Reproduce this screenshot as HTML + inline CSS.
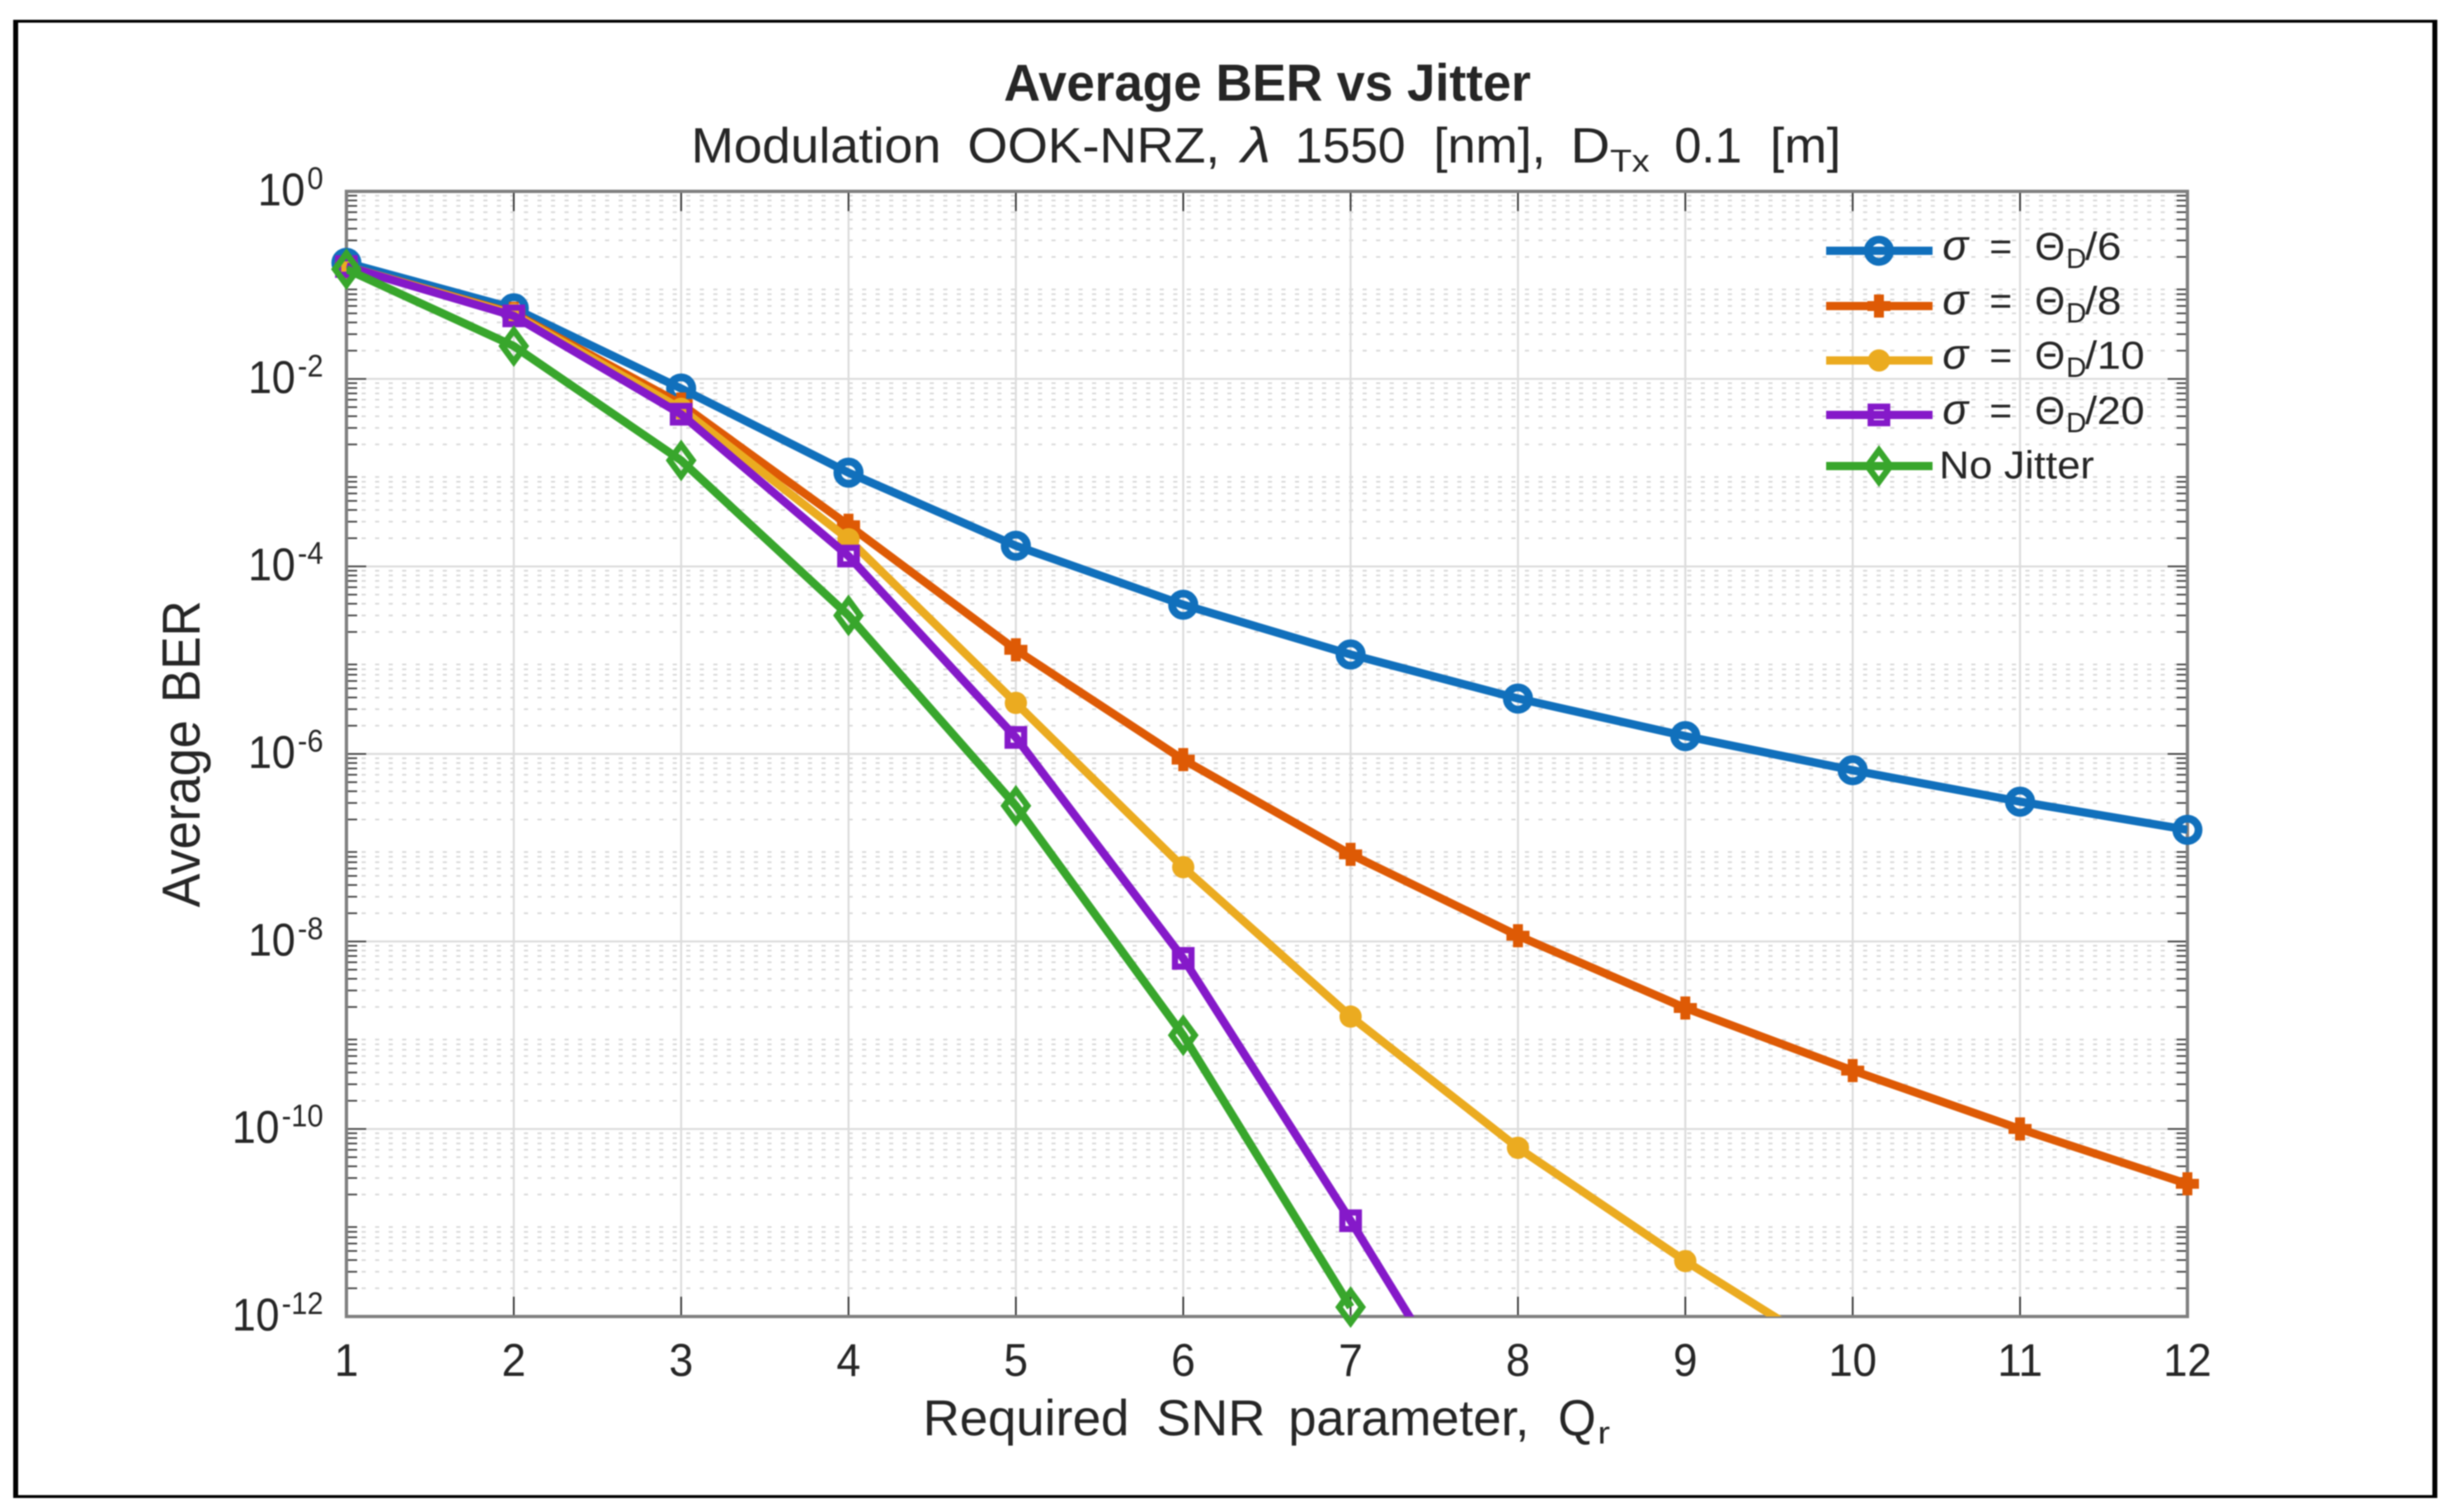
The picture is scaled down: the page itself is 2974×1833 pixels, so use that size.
<!DOCTYPE html>
<html lang="en">
<head>
<meta charset="utf-8">
<title>Average BER vs Jitter</title>
<style>
  html,body{margin:0;padding:0;background:#fff;width:2974px;height:1833px;overflow:hidden;}
  svg{display:block;filter:blur(0.7px);}
  text{font-family:"Liberation Sans",sans-serif;fill:#262626;}
</style>
</head>
<body>
<svg id="chart" xmlns="http://www.w3.org/2000/svg" width="2974" height="1833" viewBox="0 0 2974 1833">
  <defs>
    <clipPath id="plot-clip"><rect x="420" y="232" width="2232" height="1364"/></clipPath>
  </defs>
  <rect x="0" y="0" width="2974" height="1833" fill="#fff"/>
  <g fill="#000">
    <rect x="16" y="24" width="2939" height="3.5"/>
    <rect x="16" y="1812.5" width="2939" height="3.5"/>
    <rect x="16" y="24" width="6" height="1792"/>
    <rect x="2949" y="24" width="6" height="1792"/>
  </g>
  <g id="grid"></g>
  <g id="axes"></g>
  <g id="series"></g>

  <g>
    <text x="1217" y="122" font-size="63" font-weight="700" textLength="639" lengthAdjust="spacingAndGlyphs">Average BER vs Jitter</text>
  </g>
  <g font-size="60">
    <text x="838" y="197" textLength="303" lengthAdjust="spacingAndGlyphs">Modulation</text>
    <text x="1173" y="197" textLength="306" lengthAdjust="spacingAndGlyphs">OOK-NRZ,</text>
    <text x="1505" y="197" font-style="italic" textLength="36" lengthAdjust="spacingAndGlyphs">λ</text>
    <text x="1570" y="197" textLength="134" lengthAdjust="spacingAndGlyphs">1550</text>
    <text x="1738" y="197" textLength="136" lengthAdjust="spacingAndGlyphs">[nm],</text>
    <text x="1904" y="197" textLength="48" lengthAdjust="spacingAndGlyphs">D</text>
    <text x="1952" y="208" font-size="38" textLength="48" lengthAdjust="spacingAndGlyphs">Tx</text>
    <text x="2030" y="197" textLength="82" lengthAdjust="spacingAndGlyphs">0.1</text>
    <text x="2146" y="197" textLength="86" lengthAdjust="spacingAndGlyphs">[m]</text>
  </g>
  <g font-size="61">
    <text x="1119" y="1740" textLength="250" lengthAdjust="spacingAndGlyphs">Required</text>
    <text x="1402" y="1740" textLength="132" lengthAdjust="spacingAndGlyphs">SNR</text>
    <text x="1562" y="1740" textLength="292" lengthAdjust="spacingAndGlyphs">parameter,</text>
    <text x="1889" y="1740" textLength="46" lengthAdjust="spacingAndGlyphs">Q</text>
    <text x="1937" y="1750" font-size="38" textLength="15" lengthAdjust="spacingAndGlyphs">r</text>
  </g>
  <g font-size="65">
    <text transform="translate(242,1100) rotate(-90)" textLength="227" lengthAdjust="spacingAndGlyphs">Average</text>
    <text transform="translate(242,852) rotate(-90)" textLength="124" lengthAdjust="spacingAndGlyphs">BER</text>
  </g>

  <g id="legend-marks"></g>
  <g id="legend-labels" font-size="47">
    <g>
      <text x="2355" y="315" font-size="52" font-style="italic">σ</text>
      <text x="2412" y="315">=</text>
      <text x="2467" y="315">Θ</text>
      <text x="2505" y="325" font-size="34">D</text>
      <text x="2528" y="315" textLength="44" lengthAdjust="spacingAndGlyphs">/6</text>
    </g>
    <g>
      <text x="2355" y="381" font-size="52" font-style="italic">σ</text>
      <text x="2412" y="381">=</text>
      <text x="2467" y="381">Θ</text>
      <text x="2505" y="391" font-size="34">D</text>
      <text x="2528" y="381" textLength="44" lengthAdjust="spacingAndGlyphs">/8</text>
    </g>
    <g>
      <text x="2355" y="447" font-size="52" font-style="italic">σ</text>
      <text x="2412" y="447">=</text>
      <text x="2467" y="447">Θ</text>
      <text x="2505" y="457" font-size="34">D</text>
      <text x="2528" y="447" textLength="72" lengthAdjust="spacingAndGlyphs">/10</text>
    </g>
    <g>
      <text x="2355" y="514" font-size="52" font-style="italic">σ</text>
      <text x="2412" y="514">=</text>
      <text x="2467" y="514">Θ</text>
      <text x="2505" y="524" font-size="34">D</text>
      <text x="2528" y="514" textLength="72" lengthAdjust="spacingAndGlyphs">/20</text>
    </g>
    <g>
      <text x="2351" y="580" textLength="188" lengthAdjust="spacingAndGlyphs">No Jitter</text>
    </g>
  </g>
</svg>
<script>
// ---- chart data (BER) ----
const qValues = [1, 2, 3, 4, 5, 6, 7, 8, 9, 10, 11, 12];
const berSigma6 = [0.173, 0.0566, 7.9e-3, 1e-3, 1.66e-4, 3.9e-5, 1.15e-5, 3.9e-6, 1.55e-6, 6.7e-7, 3.1e-7, 1.55e-7];
const berSigma8 = [0.158, 0.05, 5.4e-3, 2.75e-4, 1.29e-5, 8.7e-7, 8.5e-8, 1.15e-8, 1.95e-9, 4.2e-10, 1e-10, 2.6e-11];
const berSigma10 = [0.158, 0.049, 4.8e-3, 1.95e-4, 3.5e-6, 6.2e-8, 1.58e-9, 6.3e-11, 3.9e-12, 3e-13];
const berSigma20 = [0.158, 0.047, 4.2e-3, 1.29e-4, 1.5e-6, 6.6e-9, 1.05e-11, 1.3e-14];
const berNoJitter = [0.148, 0.0224, 1.35e-3, 3e-5, 2.8e-7, 1e-9, 1.26e-12];
const xTickLabels = ['1', '2', '3', '4', '5', '6', '7', '8', '9', '10', '11', '12'];
const yTickExponents = ['0', '-2', '-4', '-6', '-8', '-10', '-12'];

// ---- axis functions ----
const plot = {left: 420, right: 2652, top: 232, bottom: 1596};
const xMin = 1, xMax = 12, logMax = 0, logMin = -12;
function xScale(q) { return plot.left + (q - xMin) / (xMax - xMin) * (plot.right - plot.left); }
function yScale(ber) { return plot.top + (logMax - Math.log10(ber)) / (logMax - logMin) * (plot.bottom - plot.top); }

const NS = 'http://www.w3.org/2000/svg';
function make(tag, attrs, parent) {
  const node = document.createElementNS(NS, tag);
  for (const key in attrs) node.setAttribute(key, attrs[key]);
  parent.appendChild(node);
  return node;
}
const gridG = document.getElementById('grid');
const axesG = document.getElementById('axes');
const seriesG = document.getElementById('series');
const legendG = document.getElementById('legend-marks');

// ---- minor grid ----
for (let e = logMin; e < logMax; e++) {
  for (let m = 2; m <= 9; m++) {
    const y = yScale(m * Math.pow(10, e));
    const line = make('line', {x1: plot.left + 2, x2: plot.right, y1: y, y2: y, stroke: '#d8d8d8', 'stroke-width': 2, 'stroke-dasharray': '5 11.4'}, gridG);
    
    
  }
}
// ---- major grid ----
qValues.forEach(function (q) {
  const x = xScale(q);
  const line = make('line', {x1: x, x2: x, y1: plot.top, y2: plot.bottom, stroke: '#dcdcdc', 'stroke-width': 2.4}, gridG);
  
  
});
yTickExponents.forEach(function (exp) {
  const y = yScale(Math.pow(10, Number(exp)));
  const line = make('line', {x1: plot.left, x2: plot.right, y1: y, y2: y, stroke: '#dcdcdc', 'stroke-width': 2.4}, gridG);
  
  
});

// ---- ticks ----
qValues.forEach(function (q, i) {
  const x = xScale(q);
  if (i > 0 && i < qValues.length - 1) {
    const t1 = make('line', {x1: x, x2: x, y1: plot.bottom, y2: plot.bottom - 24, stroke: '#333', 'stroke-width': 2}, axesG);
    
    
    const t2 = make('line', {x1: x, x2: x, y1: plot.top, y2: plot.top + 24, stroke: '#333', 'stroke-width': 2}, axesG);
    
    
  }
  const label = make('text', {transform: 'translate(' + x + ',1668) scale(0.94,1)', 'font-size': 56, 'text-anchor': 'middle'}, axesG);
  label.textContent = xTickLabels[i];
  
  
});
for (let e = logMin; e < logMax; e++) {
  for (let m = 2; m <= 9; m++) {
    const y = yScale(m * Math.pow(10, e));
    const tl = make('line', {x1: plot.left, x2: plot.left + 13, y1: y, y2: y, stroke: '#444', 'stroke-width': 2}, axesG);
    
    
    const tr = make('line', {x1: plot.right, x2: plot.right - 13, y1: y, y2: y, stroke: '#444', 'stroke-width': 2}, axesG);
    
    
  }
}
yTickExponents.forEach(function (exp) {
  const y = yScale(Math.pow(10, Number(exp)));
  const tl = make('line', {x1: plot.left, x2: plot.left + 24, y1: y, y2: y, stroke: '#444', 'stroke-width': 2}, axesG);
  
  
  const tr = make('line', {x1: plot.right, x2: plot.right - 24, y1: y, y2: y, stroke: '#444', 'stroke-width': 2}, axesG);
  
  
  const label = make('text', {transform: 'translate(392,' + (y + 17) + ') scale(0.92,1)', 'font-size': 56, 'text-anchor': 'end'}, axesG);
  
  
  const base = make('tspan', {}, label);
  base.textContent = '10';
  const sup = make('tspan', {dx: 3, dy: -20, 'font-size': 38}, label);
  sup.textContent = exp;
});
const box = make('rect', {x: plot.left, y: plot.top, width: plot.right - plot.left, height: plot.bottom - plot.top, fill: 'none', stroke: '#808080', 'stroke-width': 4}, axesG);



// ---- markers ----
function drawMarker(kind, x, y, color, parent) {
  let node;
  if (kind === 'circle') {
    node = make('circle', {cx: x, cy: y, r: 13.5, fill: 'none', stroke: color, 'stroke-width': 9.5}, parent);
  } else if (kind === 'plus') {
    node = make('path', {d: 'M' + (x - 14) + ' ' + y + 'H' + (x + 14) + 'M' + x + ' ' + (y - 14) + 'V' + (y + 14), fill: 'none', stroke: color, 'stroke-width': 12}, parent);
  } else if (kind === 'dot') {
    node = make('circle', {cx: x, cy: y, r: 13.5, fill: color}, parent);
  } else if (kind === 'square') {
    node = make('rect', {x: x - 10, y: y - 10, width: 20, height: 20, fill: 'none', stroke: color, 'stroke-width': 7.5}, parent);
  } else {
    node = make('path', {d: 'M' + x + ' ' + (y - 19) + 'L' + (x + 14) + ' ' + y + 'L' + x + ' ' + (y + 19) + 'L' + (x - 14) + ' ' + y + 'Z', fill: 'none', stroke: color, 'stroke-width': 7.5, 'stroke-linejoin': 'miter', 'stroke-miterlimit': 6}, parent);
  }
  return node;
}

// ---- series ----
const seriesList = [
  {key: 'sigma-6', values: berSigma6, color: '#1170bc', marker: 'circle', legendY: 304},
  {key: 'sigma-8', values: berSigma8, color: '#de5a05', marker: 'plus', legendY: 371},
  {key: 'sigma-10', values: berSigma10, color: '#ebab20', marker: 'dot', legendY: 437},
  {key: 'sigma-20', values: berSigma20, color: '#8519c9', marker: 'square', legendY: 503},
  {key: 'no-jitter', values: berNoJitter, color: '#38a62c', marker: 'diamond', legendY: 565}
];
seriesList.forEach(function (s) {
  const pts = s.values.map(function (v, i) { return xScale(qValues[i]).toFixed(1) + ',' + yScale(v).toFixed(1); }).join(' ');
  const line = make('polyline', {points: pts, fill: 'none', stroke: s.color, 'stroke-width': 10, 'stroke-linejoin': 'round', 'clip-path': 'url(#plot-clip)'}, seriesG);
  
  
  s.values.forEach(function (v, i) {
    if (Math.log10(v) < logMin) return;
    const mark = drawMarker(s.marker, xScale(qValues[i]), yScale(v), s.color, seriesG);
    
    
  });
  const key = make('line', {x1: 2214, x2: 2343, y1: s.legendY, y2: s.legendY, stroke: s.color, 'stroke-width': 10}, legendG);
  
  
  const km = drawMarker(s.marker, 2278, s.legendY, s.color, legendG);
  
  
});
</script>
</body>
</html>
